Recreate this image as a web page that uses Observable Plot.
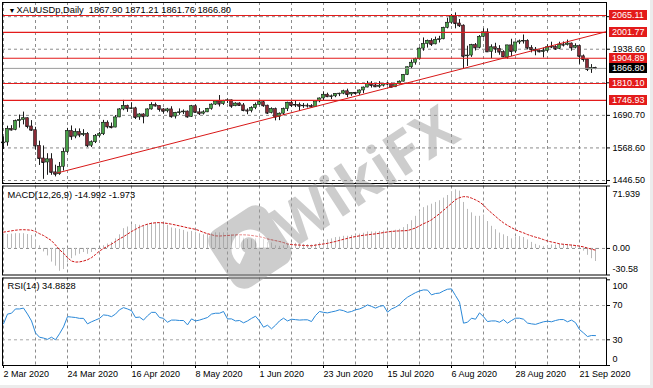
<!DOCTYPE html>
<html><head><meta charset="utf-8">
<script src="https://cdn.jsdelivr.net/npm/d3@7"></script>
<script src="https://cdn.jsdelivr.net/npm/@observablehq/plot@0.6"></script>
<style>
html,body{margin:0;padding:0;background:#fff;}
#wrap{position:relative;width:653px;height:388px;overflow:hidden;background:#fff;}
#wrap > svg{position:absolute;left:0;top:0;}
#edgeB{position:absolute;left:0;top:385px;width:653px;height:3px;background:#ececec;}
#edgeR{position:absolute;left:650px;top:0;width:3px;height:388px;background:#ececec;}
</style></head><body><div id="wrap"><div id="edgeB"></div><div id="edgeR"></div></div>
<script>
// ---- data (daily bars, 2 Mar 2020 .. 25 Sep 2020) ----
const opens = [1586,1589,1640,1636,1669,1673,1680,1649,1635,1576,
1529,1514,1526,1477,1470,1498,1553,1632,1611,1628,
1617,1621,1577,1590,1613,1620,1663,1648,1645,1683,
1713,1726,1716,1717,1683,1694,1686,1713,1730,1726,
1713,1706,1713,1686,1700,1702,1705,1685,1725,1702,
1697,1702,1715,1731,1743,1733,1745,1747,1725,1735,
1728,1709,1707,1718,1730,1740,1727,1699,1714,1684,
1697,1714,1738,1728,1730,1725,1727,1726,1722,1743,
1754,1768,1761,1762,1771,1772,1781,1769,1775,1773,
1784,1795,1809,1803,1798,1802,1809,1808,1796,1809,
1817,1842,1871,1888,1901,1941,1958,1970,1957,1974,
1976,2019,2038,2062,2035,2027,1912,1915,1954,1944,
1985,2002,1929,1946,1940,1928,1907,1953,1930,1964,
1968,1970,1943,1937,1933,1929,1932,1946,1947,1940,
1956,1954,1960,1944,1950,1912,1900,1863,1867.90];
const highs = [1610,1650,1652,1673,1692,1703,1681,1671,1646,1594,
1576,1547,1547,1504,1514,1566,1642,1651,1640,1640,
1637,1626,1595,1619,1627,1672,1670,1662,1690,1716,
1747,1729,1738,1721,1697,1697,1715,1738,1737,1727,
1716,1717,1723,1702,1715,1711,1707,1728,1730,1716,
1708,1717,1734,1745,1765,1747,1752,1748,1738,1738,
1735,1715,1723,1737,1746,1745,1729,1719,1718,1700,
1718,1740,1745,1744,1737,1735,1734,1731,1745,1756,
1779,1774,1767,1772,1774,1785,1789,1775,1777,1786,
1797,1818,1817,1808,1817,1811,1814,1812,1810,1820,
1844,1872,1898,1905,1944,1981,1973,1978,1984,1987,
2021,2055,2069,2075,2050,2030,1950,1957,1960,1990,
2015,2015,1955,1961,1952,1933,1953,1976,1965,1973,
1992,1974,1952,1945,1936,1943,1955,1965,1952,1965,
1966,1973,1962,1959,1953,1917,1901,1881,1871.21];
const lows = [1563,1575,1632,1633,1643,1655,1640,1631,1560,1503,
1451,1466,1466,1460,1466,1482,1548,1597,1603,1607,
1611,1570,1570,1585,1606,1615,1640,1640,1644,1682,
1708,1702,1712,1675,1672,1659,1684,1710,1722,1703,
1695,1700,1680,1677,1691,1694,1680,1683,1700,1690,
1692,1701,1710,1728,1722,1728,1735,1717,1723,1724,
1704,1693,1700,1712,1727,1721,1694,1696,1670,1671,
1690,1705,1720,1720,1705,1717,1718,1717,1720,1738,
1745,1757,1750,1757,1761,1768,1757,1762,1767,1766,
1772,1794,1793,1795,1792,1797,1801,1795,1795,1805,
1816,1840,1863,1879,1898,1931,1943,1949,1955,1962,
1974,2015,2032,2015,2020,1863,1874,1908,1932,1940,
1981,1929,1903,1923,1916,1908,1901,1911,1924,1956,
1958,1936,1925,1914,1925,1906,1927,1941,1934,1937,
1947,1951,1931,1940,1882,1890,1855,1848,1861.76];
const closes = [1589,1640,1636,1669,1673,1680,1649,1635,1576,1529,
1514,1526,1477,1470,1498,1553,1632,1611,1628,1617,
1621,1577,1590,1613,1620,1663,1648,1645,1683,1713,
1726,1716,1717,1683,1694,1686,1713,1730,1726,1713,
1706,1713,1686,1700,1702,1705,1685,1725,1702,1697,
1702,1715,1731,1743,1733,1745,1747,1725,1735,1728,
1709,1707,1718,1730,1740,1727,1699,1714,1684,1697,
1714,1738,1728,1730,1725,1727,1726,1722,1743,1754,
1768,1761,1762,1771,1772,1781,1769,1775,1773,1784,
1795,1809,1803,1798,1802,1809,1808,1796,1809,1817,
1842,1871,1888,1901,1941,1958,1970,1957,1974,1976,
2019,2038,2062,2035,2027,1912,1915,1954,1944,1985,
2002,1929,1946,1940,1928,1910,1953,1930,1964,1968,
1970,1943,1937,1933,1929,1932,1946,1947,1940,1956,
1954,1960,1944,1950,1912,1900,1863,1868,1866.80];
const macdMain = [15.7,16,16.5,17,17,17,16,15,9,3,
-4,-8.6,-15.7,-20.4,-26.3,-24.3,-16.5,-11.8,-8.6,-6.7,
-4.7,-6.7,-4.7,-2.7,-0.8,3.1,5.1,7,11,15.7,
22.8,24.7,27.5,27.5,26.7,26,27.5,29.5,29.5,28.7,
27.5,26.7,23.6,22.8,22,20.8,18.8,19.6,18.8,16.9,
15.7,16.1,16.9,18,18,18,18,15.7,14.9,14.1,
11.8,10.2,10.2,11,11.8,10.2,7.1,6.3,3.1,2.4,
3.1,5.1,5.9,5.9,5.1,4.7,4.3,3.9,4.7,6.3,
8,10,11,12.5,13,14,14,15,15.5,16.5,
17.5,19,19,19,19.5,20,20,20,21,22,
24,27.5,32,37,43,47,49,51,53,55,
58,61,65,67.5,66,53,45,41,37,37,
38.5,31,25.5,21.6,17.7,15.7,13.7,11,12.6,13.7,
12.6,9.8,7,4.7,3.1,2,3.1,3.9,3.9,4.7,
4.7,4.7,3.9,3.1,0.8,-3.1,-7.9,-11.8,-14.992];
const macdSignal = [18.8,19.5,20.3,21,21.5,21.6,21.4,21,19.5,17,
14.9,12,9,4,-1.5,-5.5,-10.6,-14.5,-15.7,-15.5,
-14.5,-13,-10.6,-7,-3,0,2.5,5,8,11,
13.5,16.5,19.5,22,24.5,26.5,28,29,29.6,29.8,
29.4,28.8,28,27,26,25,23.8,23,22,20.5,
18.5,17,15.8,14.5,14.3,14.6,14.9,15.3,15.6,15.7,
15.7,15.5,15,14.3,13.5,12.5,11,10,9,8,
6.8,5.1,4.5,4.1,3.9,3.5,3.2,3.1,3.8,4.5,
5.2,5.9,7,8,9.3,10.5,11.6,12.8,13.7,14.5,
15.2,15.7,16.3,16.8,17.5,18.3,19,19.6,20,20.2,
20.4,20.6,22,23.6,26,28.5,30.5,33,36.5,40,
44,47.9,52,56.2,58.5,59.7,59.5,58,56,53.5,
50,45,41,37,33,29.5,26.5,24,21.5,19.6,
18,16,14.5,13,11.8,10.2,8.5,7.5,6.5,5.3,
4.8,4.3,3.9,3.4,2.7,1.8,0.5,-0.8,-1.973];
const rsiValues = [48.6,60,61,66,66,67,60,52,38,33,
32,30.5,33,30,37,45,57,56.5,56,55,
55,48.6,51,53,55,59,58.5,57,60,65,
67.5,66,64,56,56.5,53,58,62,62,56,
55,50.5,53,53,52.5,52.5,47.4,54.4,52,53,
54.5,56,60,61,61,63,54.4,54.4,52,52.5,
49.8,52,55,57.5,52,44.7,47,42.8,47,52,
55.2,52,54,53.5,53,53.3,53.3,51.3,58.3,63,
62,61.4,62.5,63.5,65,64,62,63,65,66,
68,70.7,69,67,69,70,62.2,66,68,71,
76,79.7,82.4,85,87,88.2,88,82.4,84,84.5,
87,89,89.4,81.6,73.9,49.4,50.5,55.2,54,61.4,
57,51.3,52,52,50.5,53.5,49.4,52.5,55.2,55.2,
54,49.5,48.6,48,49.5,51,51.7,51,52.5,53.6,
53.6,51,53,50,42,38,33.8,35,34.8828];
const dateLabels = ["2 Mar 2020","24 Mar 2020","16 Apr 2020","8 May 2020","1 Jun 2020","23 Jun 2020","15 Jul 2020","6 Aug 2020","28 Aug 2020","21 Sep 2020"];
const dateLabelIdx = [0,16,32,48,64,80,96,112,128,144];
const gridIdx = [0,8,16,24,32,40,48,56,64,72,80,88,96,104,112,120,128,136,144];
const priceGrid = [1446.50,1568.60,1690.70,1812.80,1938.60,2060.70];
const priceLabels = [1446.50,1568.60,1690.70,1938.60];
const levels = [2065.11,2001.77,1904.89,1810.10,1746.93];
const lastPrice = 1866.80;
const trendIdx = [13.6,150.75];
const trendVal = [1475.4,2004.5];
const macdTicks = [71.939,0,-30.58];
const rsiTicks = [100,70,30,0];
const titleMain = "XAUUSDp,Daily  1867.90 1871.21 1861.76 1866.80";
const titleMacd = "MACD(12,26,9) -14.992 -1.973";
const titleRsi = "RSI(14) 34.8828";

// ---- build ----
const N = closes.length;
const bars = d3.range(N).map(i => ({i, o: opens[i], h: highs[i], l: lows[i], c: closes[i]}));
const ind = d3.range(N).map(i => ({i, m: macdMain[i], s: macdSignal[i], r: rsiValues[i]}));
const trend = trendIdx.map((t, k) => ({i: t, v: trendVal[k]}));

const W = 653, H = 388;
const FONT = "'Liberation Sans', Arial, sans-serif";
const common = {
  width: W, height: H, marginLeft: 2, marginRight: 47,
  x: {type: "linear", domain: [-0.25, 150.75], axis: null},
  style: {background: "transparent", fontFamily: FONT, fontSize: "9px", overflow: "visible", color: "#000"}
};
const GRID = {stroke: "#8c8c8c", strokeOpacity: 1, strokeDasharray: "3,3"};
const BULL = "#46a046", BEAR = "#8a2a36", EDGE = "#1a1a1a", LEVEL = "#e31b1b";

function boxMark(values, fill, fmt) {
  return (...args) => {
    let scales, dims;
    if (args.length >= 4) { scales = args[1]; dims = args[3]; } else { scales = args[0]; dims = args[1]; }
    const g = d3.create("svg:g").attr("text-anchor", "start");
    const x0 = dims.width - dims.marginRight + 3;
    for (const v of values) {
      const y = Math.round(scales.y(v));
      g.append("rect").attr("x", x0).attr("y", y - 5).attr("width", 38).attr("height", 10).attr("fill", fill);
      g.append("text").attr("x", x0 + 3).attr("y", y).attr("dy", "0.36em").attr("text-anchor", "start")
        .attr("fill", "#fff").attr("font-size", 9).attr("font-family", FONT).text(fmt(v));
    }
    return g.node();
  };
}

const pricePlot = Plot.plot({
  ...common,
  marginTop: 2, marginBottom: H - 183,
  y: {domain: [1435.25, 2113.8], axis: null},
  marks: [
    Plot.gridX(gridIdx, GRID),
    Plot.gridY(priceGrid, GRID),
    Plot.ruleX(bars, {x: "i", y1: "l", y2: "h", stroke: EDGE}),
    Plot.ruleY(bars, {x1: d => d.i - 0.375, x2: d => d.i + 0.375, y: "c", stroke: EDGE}),
    Plot.rect(bars, {x1: d => d.i - 0.375, x2: d => d.i + 0.375, y1: "o", y2: "c",
      fill: d => d.c >= d.o ? BULL : BEAR, stroke: EDGE, strokeWidth: 0.6}),
    Plot.ruleY([lastPrice], {stroke: "#9a9a9a"}),
    Plot.ruleY(levels, {stroke: LEVEL, strokeWidth: 1.1}),
    Plot.line(trend, {x: "i", y: "v", stroke: "#d81818", strokeWidth: 1}),
    Plot.frame({stroke: "#000"}),
    Plot.axisY(priceGrid, {anchor: "right", tickSize: 3, label: null, tickFormat: () => ""}),
    Plot.text(priceLabels, {y: d => d, text: d => d.toFixed(2), frameAnchor: "right", dx: 6, textAnchor: "start", fontSize: 9}),
    boxMark(levels, LEVEL, v => v.toFixed(2)),
    boxMark([lastPrice], "#000", v => v.toFixed(2)),
    Plot.text(["\u25BC"], {text: d => d, frameAnchor: "top-left", dx: 6, dy: 8, lineAnchor: "middle", fontSize: 7}),
    Plot.text([titleMain], {text: d => d, frameAnchor: "top-left", dx: 14, dy: 8, lineAnchor: "middle", textAnchor: "start", fontSize: 9.3})
  ]
});

const macdPlot = Plot.plot({
  ...common,
  marginTop: 185.5, marginBottom: H - 274.5,
  y: {domain: [-30.58, 71.939], axis: null},
  marks: [
    Plot.gridX(gridIdx, GRID),
    Plot.gridY([0], GRID),
    Plot.ruleX(ind, {x: "i", y1: 0, y2: "m", stroke: "#b9b9b9"}),
    Plot.line(ind, {x: "i", y: "s", stroke: "#d01515", strokeDasharray: "2,2", strokeWidth: 1}),
    Plot.frame({stroke: "#000"}),
    Plot.axisY(macdTicks, {anchor: "right", tickSize: 3, label: null, tickFormat: () => ""}),
    Plot.text([macdTicks[0]], {y: d => d, text: d => d.toFixed(3), frameAnchor: "right", dx: 6, dy: 8, textAnchor: "start", fontSize: 9}),
    Plot.text([macdTicks[1]], {y: d => d, text: d => d.toFixed(2), frameAnchor: "right", dx: 6, dy: 0, textAnchor: "start", fontSize: 9}),
    Plot.text([macdTicks[2]], {y: d => d, text: d => d.toFixed(2), frameAnchor: "right", dx: 6, dy: -6, textAnchor: "start", fontSize: 9}),
    Plot.text([titleMacd], {text: d => d, frameAnchor: "top-left", dx: 5, dy: 9, lineAnchor: "middle", textAnchor: "start", fontSize: 9.3})
  ]
});

const rsiPlot = Plot.plot({
  ...common,
  marginTop: 277.5, marginBottom: H - 365,
  y: {domain: [0, 102.1], axis: null},
  marks: [
    Plot.gridX(gridIdx, GRID),
    Plot.gridY([70, 30], {...GRID, stroke: "#a8a8a8"}),
    Plot.line(ind, {x: "i", y: "r", stroke: "#2a88d8", strokeWidth: 1}),
    Plot.frame({stroke: "#000"}),
    Plot.axisX(dateLabelIdx, {anchor: "bottom", tickSize: 3, tickPadding: 2, label: null, fontSize: 9,
      textAnchor: "start", tickFormat: d => dateLabels[dateLabelIdx.indexOf(d)]}),
    Plot.axisY(rsiTicks, {anchor: "right", tickSize: 3, label: null, tickFormat: () => ""}),
    Plot.text([rsiTicks[0]], {y: d => d, text: d => String(d), frameAnchor: "right", dx: 6, dy: 6, textAnchor: "start", fontSize: 9}),
    Plot.text(rsiTicks.slice(1, 3), {y: d => d, text: d => String(d), frameAnchor: "right", dx: 6, dy: 0, textAnchor: "start", fontSize: 9}),
    Plot.text([rsiTicks[3]], {y: d => d, text: d => String(d), frameAnchor: "right", dx: 6, dy: -6, textAnchor: "start", fontSize: 9}),
    Plot.text([titleRsi], {text: d => d, frameAnchor: "top-left", dx: 5, dy: 8.5, lineAnchor: "middle", textAnchor: "start", fontSize: 9.3})
  ]
});

const wrap = document.getElementById("wrap");
for (const p of [pricePlot, macdPlot, rsiPlot]) wrap.appendChild(p);

// watermark
const wm = d3.select(wrap).append("svg").attr("width", W).attr("height", H).style("pointer-events", "none");
const g = wm.append("g").attr("transform", "translate(250,247) rotate(-33)").attr("opacity", 0.5);
g.append("rect").attr("x", -34).attr("y", -34).attr("width", 68).attr("height", 68).attr("rx", 14).attr("fill", "#9c9c9c");
g.append("path").attr("d", "M-18,9 A19,19 0 1,1 16,11 L5,4 A8,8 0 1,0 -7,2 Z").attr("fill", "#fff");
g.append("text").attr("x", 32).attr("y", 25).attr("text-anchor", "start").attr("font-family", "'Open Sans', sans-serif").attr("font-weight", 700)
  .attr("font-size", 60).attr("fill", "#9c9c9c").text("WikiFX");
</script></body></html>
